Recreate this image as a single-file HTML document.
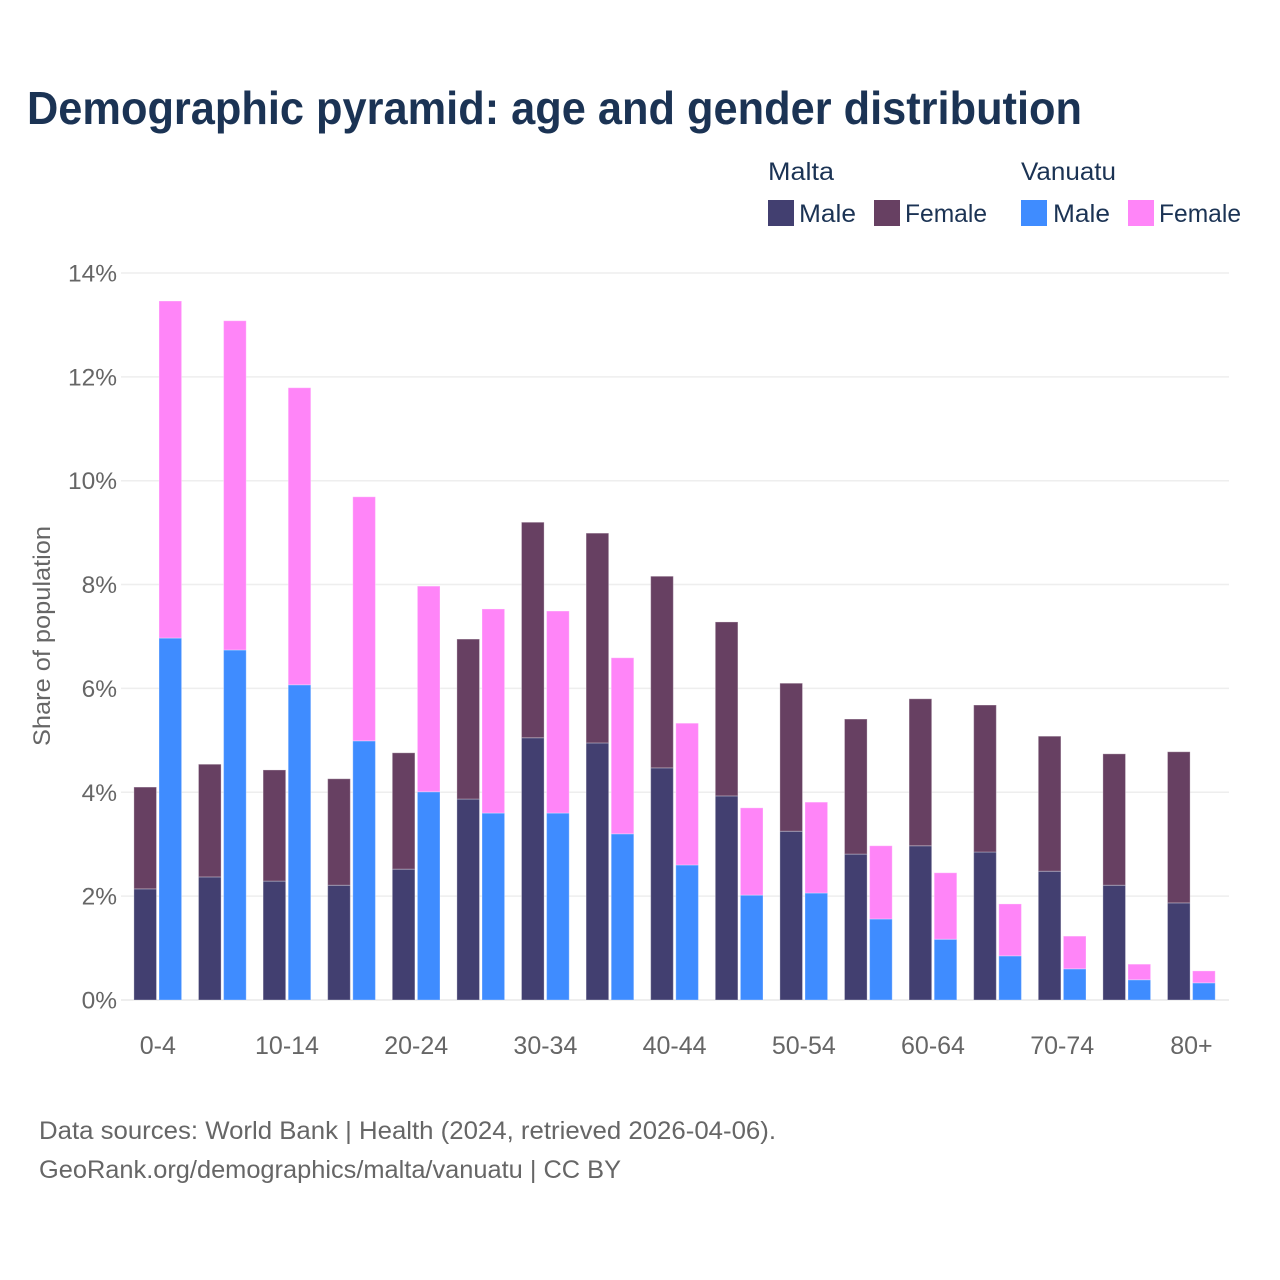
<!DOCTYPE html>
<html lang="en">
<head>
<meta charset="utf-8">
<title>Demographic pyramid</title>
<style>
html,body{margin:0;padding:0;background:#fff;width:1280px;height:1280px;overflow:hidden}
svg{display:block;font-family:"Liberation Sans",sans-serif}
</style>
</head>
<body>
<svg id="chart" width="1280" height="1280" viewBox="0 0 1280 1280" xmlns="http://www.w3.org/2000/svg">
  <rect width="1280" height="1280" fill="#fff"/>
  <text x="27" y="124" font-size="46" font-weight="700" fill="#1b3354" textLength="1055" lengthAdjust="spacingAndGlyphs">Demographic pyramid: age and gender distribution</text>

  <g font-size="25" fill="#1b3354">
    <text x="768" y="180" textLength="66" lengthAdjust="spacingAndGlyphs">Malta</text>
    <text x="1021" y="180" textLength="95" lengthAdjust="spacingAndGlyphs">Vanuatu</text>
    <rect x="768" y="200" width="26" height="26" fill="#423f70"/>
    <text x="799" y="222" textLength="57" lengthAdjust="spacingAndGlyphs">Male</text>
    <rect x="874" y="200" width="26" height="26" fill="#674062"/>
    <text x="905" y="222" textLength="82" lengthAdjust="spacingAndGlyphs">Female</text>
    <rect x="1021" y="200" width="26" height="26" fill="#3f8cff"/>
    <text x="1053" y="222" textLength="57" lengthAdjust="spacingAndGlyphs">Male</text>
    <rect x="1128" y="200" width="26" height="26" fill="#ff85f8"/>
    <text x="1159" y="222" textLength="82" lengthAdjust="spacingAndGlyphs">Female</text>
  </g>

  <g id="grid"></g>
  <g id="yticks" font-size="24.5" fill="#666" text-anchor="end"></g>
  <g id="bars"></g>
  <g id="xticks" font-size="25" fill="#666" text-anchor="middle"></g>

  <text transform="translate(50,746) rotate(-90)" x="0" y="0" font-size="24" fill="#666" textLength="220" lengthAdjust="spacingAndGlyphs">Share of population</text>

  <text x="39" y="1139" font-size="25" fill="#666" textLength="737" lengthAdjust="spacingAndGlyphs">Data sources: World Bank | Health (2024, retrieved 2026-04-06).</text>
  <text x="39" y="1178" font-size="25" fill="#666" textLength="582" lengthAdjust="spacingAndGlyphs">GeoRank.org/demographics/malta/vanuatu | CC BY</text>
</svg>
<script>
const categories = ["0-4","5-9","10-14","15-19","20-24","25-29","30-34","35-39","40-44","45-49","50-54","55-59","60-64","65-69","70-74","75-79","80+"];
const maltaMale = [2.14,2.37,2.29,2.21,2.52,3.87,5.05,4.95,4.47,3.93,3.25,2.81,2.97,2.85,2.48,2.21,1.87];
const maltaFemale = [1.96,2.17,2.14,2.05,2.24,3.08,4.15,4.04,3.69,3.35,2.85,2.60,2.83,2.83,2.60,2.53,2.91];
const vanuatuMale = [6.97,6.74,6.07,4.99,4.01,3.60,3.60,3.20,2.60,2.02,2.06,1.56,1.17,0.85,0.60,0.39,0.33];
const vanuatuFemale = [6.49,6.34,5.72,4.70,3.96,3.93,3.89,3.39,2.73,1.68,1.75,1.41,1.28,1.00,0.63,0.30,0.23];
const yTicks = [0,2,4,6,8,10,12,14];
const xTickEvery = 2;

const NS = "http://www.w3.org/2000/svg";
function yScale(v){ return 1000 - 51.93 * v; }
function xScale(i){ return 157.8 + 64.6 * i; }
const BAR_W = 22.6;

const gridG = document.getElementById("grid");
const yG = document.getElementById("yticks");
const xG = document.getElementById("xticks");
const barsG = document.getElementById("bars");

yTicks.forEach(function(t){
  const line = document.createElementNS(NS, "line");
  
  
  line.setAttribute("x1", 121);
  line.setAttribute("x2", 1229);
  line.setAttribute("y1", yScale(t));
  line.setAttribute("y2", yScale(t));
  line.setAttribute("stroke", "#eeeeee");
  line.setAttribute("stroke-width", t === 0 ? 2 : 1.5);
  gridG.appendChild(line);

  const label = document.createElementNS(NS, "text");
  
  
  label.setAttribute("x", 117);
  label.setAttribute("y", yScale(t) + 8.5);
  label.textContent = t + "%";
  yG.appendChild(label);
});

categories.forEach(function(c, i){
  if (i % xTickEvery === 0) {
    const label = document.createElementNS(NS, "text");
    
    
    label.setAttribute("x", xScale(i));
    label.setAttribute("y", 1054);
    label.textContent = c;
    xG.appendChild(label);
  }
});

function drawBar(x, bottomVal, val, fill, name){
  const top = yScale(bottomVal + val);
  const bottom = yScale(bottomVal);
  const r = document.createElementNS(NS, "rect");
  
  
  r.setAttribute("x", x);
  r.setAttribute("y", top);
  r.setAttribute("width", BAR_W);
  r.setAttribute("height", bottom - top);
  r.setAttribute("fill", fill);
  r.setAttribute("stroke", "#ffffff");
  r.setAttribute("stroke-opacity", "0.3");
  r.setAttribute("stroke-width", "1");
  barsG.appendChild(r);
}

categories.forEach(function(c, i){
  const xM = xScale(i) - 23.9;
  const xV = xScale(i) + 1.2;
  drawBar(xM, 0, maltaMale[i], "#423f70", "bar-malta-male");
  drawBar(xM, maltaMale[i], maltaFemale[i], "#674062", "bar-malta-female");
  drawBar(xV, 0, vanuatuMale[i], "#3f8cff", "bar-vanuatu-male");
  drawBar(xV, vanuatuMale[i], vanuatuFemale[i], "#ff85f8", "bar-vanuatu-female");
});
</script>
</body>
</html>
